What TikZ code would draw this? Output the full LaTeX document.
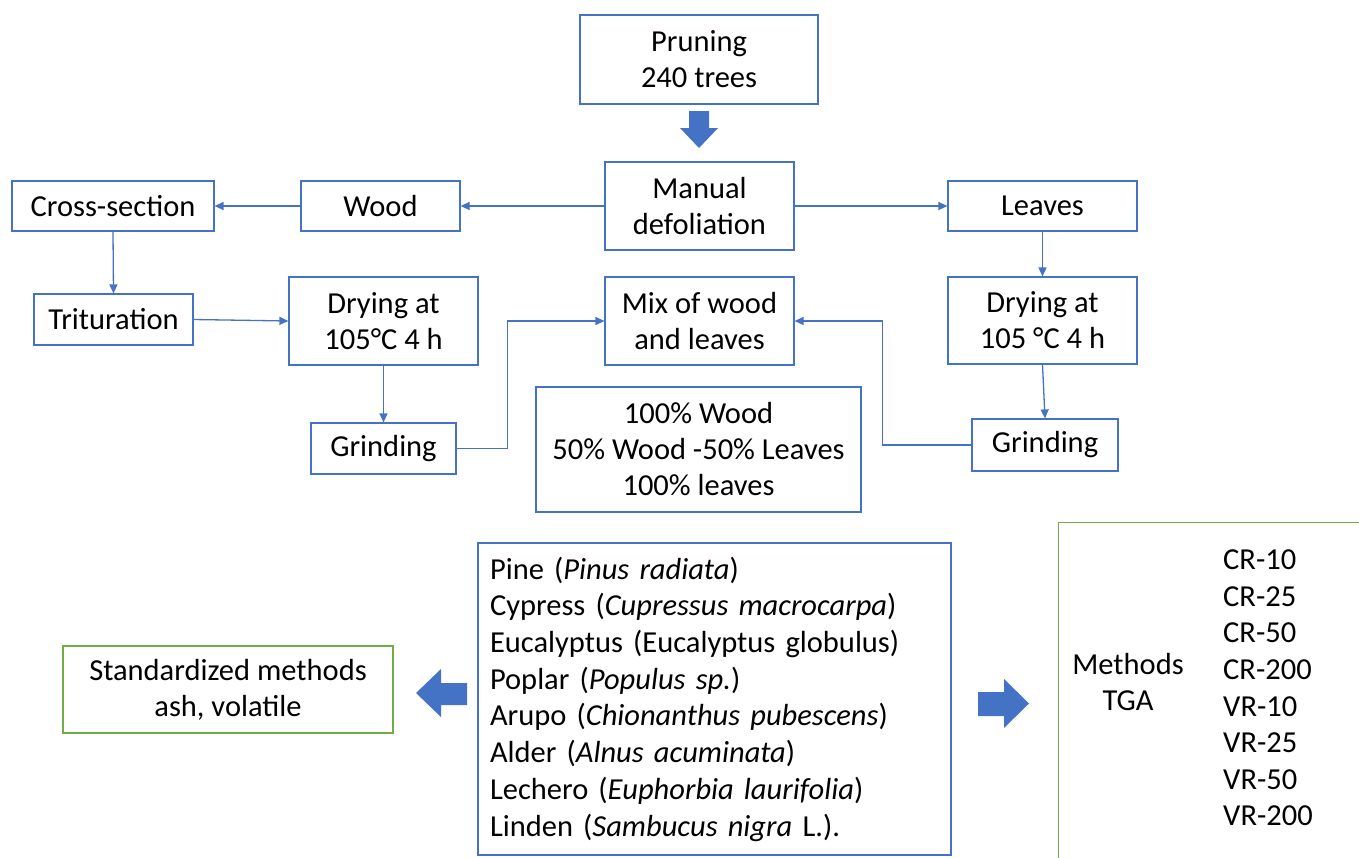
\documentclass[tikz,border=0pt]{standalone}
\usepackage{fontspec}
\setmainfont{Carlito}
\usetikzlibrary{arrows.meta}
\definecolor{boxblue}{HTML}{4472C4}
\definecolor{arrblue}{HTML}{4472C4}
\definecolor{boxgreen}{HTML}{70AD47}
\begin{document}
\begin{tikzpicture}[x=1pt,y=-1pt,
  txt/.style={font=\fontsize{30.5}{36}\selectfont, align=center, text=black},
  box/.style={txt, draw=boxblue, line width=1.2pt, inner sep=0pt},
  gbox/.style={txt, draw=boxgreen, line width=1.2pt, inner sep=0pt},
  conn/.style={draw=arrblue, line width=1.3pt, -{Triangle[length=9pt,width=8pt]}},
  blockarrow/.style={fill=arrblue, draw=none}]
\useasboundingbox (0,0) rectangle (1359,857);
\clip (0,0) rectangle (1359,857);

% boxes
\node[box, minimum width=238pt, minimum height=89pt] (pruning) at (699,59.5) {Pruning\\240 trees};
\node[box, minimum width=189pt, minimum height=88pt] (manual) at (699.5,206) {Manual\\defoliation};
\node[box, minimum width=159pt, minimum height=50pt] (wood) at (380.5,206) {Wood};
\node[box, minimum width=202pt, minimum height=50pt] (cross) at (113,206) {Cross-section};
\node[box, minimum width=189pt, minimum height=50pt] (leaves) at (1042.5,206) {Leaves};
\node[box, minimum width=159pt, minimum height=51pt] (trit) at (113.5,319.5) {Trituration};
\node[box, minimum width=189pt, minimum height=88pt] (dryL) at (383.5,321) {Drying at\\105°C 4 h};
\node[box, minimum width=145pt, minimum height=51pt] (grindL) at (383.5,448.5) {Grinding};
\node[box, minimum width=189pt, minimum height=88pt] (mix) at (699.5,321) {Mix of wood\\and leaves};
\node[box, minimum width=325pt, minimum height=125pt] (pct) at (698.5,449.5) {100\% Wood\\50\% Wood -50\% Leaves\\100\% leaves};
\node[box, minimum width=189pt, minimum height=87pt] (dryR) at (1042.5,320.5) {Drying at\\105 °C 4 h};
\node[box, minimum width=146pt, minimum height=52pt] (grindR) at (1045,445) {Grinding};

\node[box, font=\fontsize{30.5}{36.7}\selectfont, align=left, text width=449pt, inner xsep=12pt, minimum height=312pt] (species) at (714.5,699) {Pine (\textit{Pinus radiata})\\
Cypress (\textit{Cupressus macrocarpa})\\
Eucalyptus (Eucalyptus globulus)\\
Poplar (\textit{Populus sp.})\\
Arupo (\textit{Chionanthus pubescens})\\
Alder (\textit{Alnus acuminata})\\
Lechero (\textit{Euphorbia laurifolia})\\
Linden (\textit{Sambucus nigra} L.).};

\node[gbox, minimum width=330pt, minimum height=87pt] (std) at (228,689.5) {Standardized methods\\ash, volatile};

\node[gbox, minimum width=330pt, minimum height=360pt, anchor=north west] (tga) at (1058,522) {};
\node[txt, inner sep=0pt] (tgalabel) at (1128,682) {Methods\\TGA};
\node[txt, font=\fontsize{30.5}{36.6}\selectfont, align=left, inner sep=0pt, anchor=west] (tgalist) at (1223,688) {CR-10\\CR-25\\CR-50\\CR-200\\VR-10\\VR-25\\VR-50\\VR-200};

% block arrows
\fill[blockarrow] (689,111) -- (709,111) -- (709,128) -- (718,128) -- (699,148) -- (680,128) -- (689,128) -- cycle;
\fill[blockarrow] (467,683) -- (441,683) -- (441,669) -- (416,693) -- (441,717) -- (441,705) -- (467,705) -- cycle;
\fill[blockarrow] (978,692) -- (1004,692) -- (1004,679) -- (1029,703.5) -- (1004,728) -- (1004,716) -- (978,716) -- cycle;

% connectors
\draw[conn] (manual.west) -- (wood.east);
\draw[conn] (wood.west) -- (cross.east);
\draw[conn] (manual.east) -- (leaves.west);
\draw[conn] (cross.south) -- (trit.north);
\draw[conn] (trit.east) -- (dryL.west);
\draw[conn] (dryL.south) -- (grindL.north);
\draw[conn] (grindL.east) -- ++(51,0) |- (mix.west);
\draw[conn] (grindR.west) -- ++(-89,0) |- (mix.east);
\draw[conn] (leaves.south) -- (dryR.north);
\draw[conn] (dryR.south) -- (grindR.north);
\end{tikzpicture}
\end{document}
